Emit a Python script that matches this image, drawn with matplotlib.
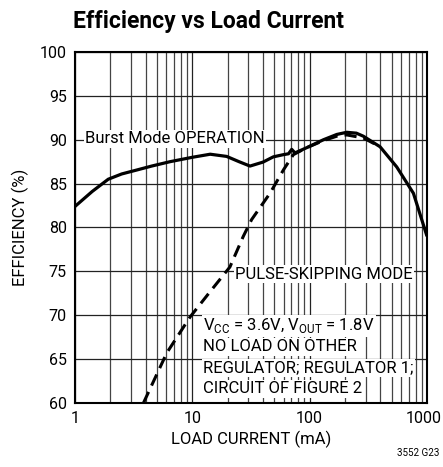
import matplotlib
matplotlib.use('Agg')
import matplotlib.pyplot as plt
from matplotlib import font_manager
from matplotlib.transforms import ScaledTranslation

# font: condensed sans if we have it
_names = {f.name for f in font_manager.fontManager.ttflist}
FONT = 'Liberation Sans Narrow' if 'Liberation Sans Narrow' in _names else 'Roboto'
plt.rcParams['font.family'] = [FONT, 'DejaVu Sans']

# ── data ─────────────────────────────────────────────────────────────
burst_current = [1.0, 1.4, 1.92, 2.5, 3.36, 4.5, 6.46, 10.0, 14.2, 19.6,
                 25.0, 31.0, 40.0, 49.0, 59.7, 66.0, 70.3, 75.0, 94.5,
                 131.0, 170.0, 207.0, 250.0, 287.0, 398.0, 552.0, 766.0,
                 1000.0]
burst_eff = [82.4, 84.1, 85.5, 86.1, 86.55, 87.0, 87.5, 88.0, 88.35, 88.1,
             87.5, 87.0, 87.45, 88.05, 88.3, 88.4, 88.9, 88.5, 89.1,
             90.0, 90.6, 90.85, 90.75, 90.4, 89.2, 86.9, 83.9, 79.0]

pulse_current = [3.83, 6.05, 9.56, 14.0, 20.9, 27.2, 32.0, 45.9, 60.0,
                 72.6, 94.5, 131.0, 170.0, 207.0, 287.0, 398.0]
pulse_eff = [60.0, 65.7, 69.8, 72.6, 75.5, 79.0, 80.9, 83.9, 86.6,
             88.3, 89.1, 89.9, 90.4, 90.55, 90.2, 89.2]

notes = ['V$_{\\mathregular{CC}}$ = 3.6V, V$_{\\mathregular{OUT}}$ = 1.8V',
         'NO LOAD ON OTHER',
         'REGULATOR; REGULATOR 1;',
         'CIRCUIT OF FIGURE 2']

fig = plt.figure(figsize=(4.43, 4.67), dpi=100)
ax = fig.add_axes([0.1693, 0.137, 0.7946, 0.7517])

ax.set_xscale('log')
ax.set_xlim(1, 1000)
ax.set_ylim(60, 100)

ax.set_xticks([1, 10, 100, 1000])
ax.set_xticklabels(['1', '10', '100', '1000'])
ax.set_xticks([m * 10 ** d for d in range(3) for m in range(2, 10)], minor=True)
ax.set_xticklabels([], minor=True)
ax.set_yticks(range(60, 101, 5))
ax.tick_params(which='both', length=0, labelsize=11.5, pad=6)
ax.grid(True, which='major', color='#222222', lw=0.9)
ax.grid(True, which='minor', axis='x', color='#444444', lw=0.9)
for s in ax.spines.values():
    s.set_linewidth(1.5)
    s.set_zorder(5)

# last x label sits at the figure edge, nudge it in a bit
last = ax.get_xticklabels()[-1]
last.set_transform(last.get_transform() + ScaledTranslation(-0.03, 0, fig.dpi_scale_trans))

ax.plot(burst_current, burst_eff, color='black', lw=2.3,
        solid_capstyle='butt', zorder=4)
ax.plot(pulse_current, pulse_eff, color='black', lw=2.2,
        dashes=(4.0, 2.3), zorder=4)

box = dict(facecolor='white', edgecolor='none', pad=1.0)
ax.text(1.22, 90.1, 'Burst Mode OPERATION', fontsize=12, va='center',
        ha='left', bbox=box, zorder=3)
ax.text(23.1, 74.7, 'PULSE-SKIPPING MODE', fontsize=12, va='center',
        ha='left', bbox=box, zorder=3)
for i, line in enumerate(notes):
    ax.text(12.3, 68.8 - i * 2.4, line, fontsize=12, va='center',
            ha='left', bbox=box, zorder=3)

ax.set_xlabel('LOAD CURRENT (mA)', fontsize=12, labelpad=3)
ax.set_ylabel('EFFICIENCY (%)', fontsize=12, labelpad=8)

fig.text(0.165, 0.953, 'Efficiency vs Load Current', fontsize=16.5,
         fontweight='bold', va='center', ha='left')
fig.text(0.992, 0.03, '3552 G23', fontsize=7, ha='right', va='center')

fig.savefig('out.png', dpi=100)
